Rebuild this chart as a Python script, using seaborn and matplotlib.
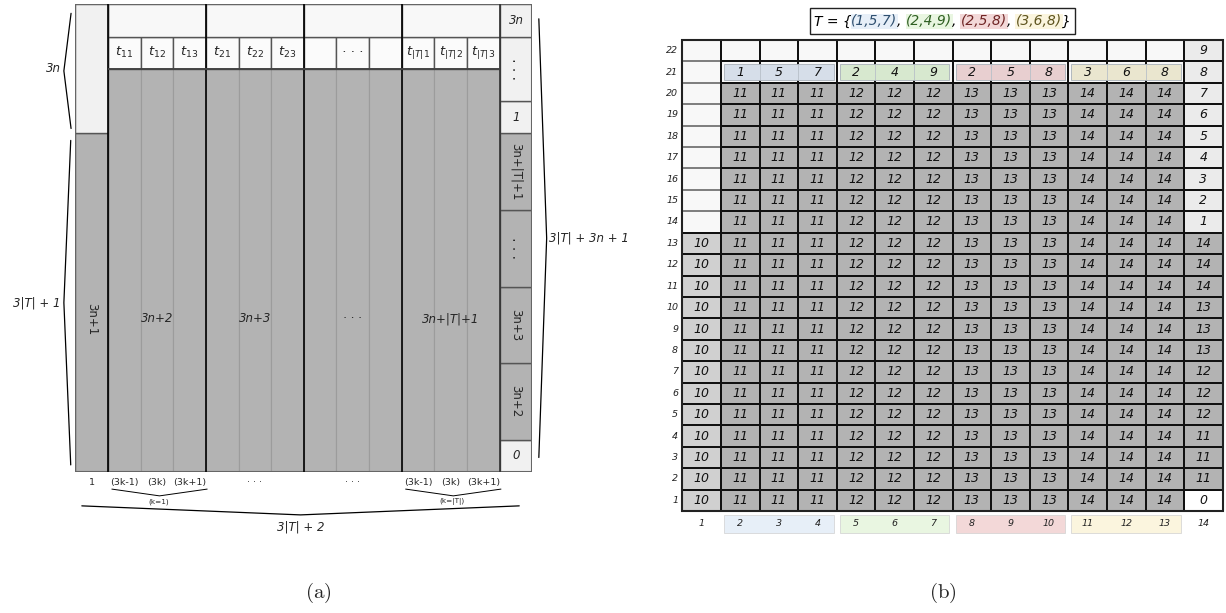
import numpy as np
import matplotlib
matplotlib.use("Agg")
import matplotlib.pyplot as plt
import seaborn as sns
from matplotlib.colors import ListedColormap
from matplotlib.patches import Rectangle

sns.set_theme(style="white")
plt.rcParams['font.family'] = ['DejaVu Sans']
plt.rcParams['mathtext.fontset'] = 'dejavusans'

# ---------------- data : panel (a) ----------------
a_header_labels = [r"$t_{11}$", r"$t_{12}$", r"$t_{13}$", r"$t_{21}$", r"$t_{22}$", r"$t_{23}$",
                   "", "· · ·", "", r"$t_{|T|1}$", r"$t_{|T|2}$", r"$t_{|T|3}$"]
a_group_labels = ["3n+2", "3n+3", "· · ·", "3n+|T|+1"]
a_first_col_label = "3n+1"
# right column, bottom -> top
a_right_labels = ["0", "3n+2", "3n+3", "· · ·", "3n+|T|+1", "1", "· · ·", "3n"]
a_right_heights = [1, 2.375, 2.375, 2.375, 2.375, 1, 2, 1]
a_right_light = [True, False, False, False, False, True, True, True]
a_right_rotated = [False, True, True, True, True, False, True, False]
a_bottom_labels = ["1", "(3k-1)", "(3k)", "(3k+1)", "", "· · ·", "", "", "· · ·", "",
                   "(3k-1)", "(3k)", "(3k+1)", ""]
a_k_labels = ["(k=1)", "(k=|T|)"]
a_brace_top = "3n"
a_brace_left = "3|T| + 1"
a_brace_right = "3|T| + 3n + 1"
a_brace_bottom = "3|T| + 2"

# ---------------- data : panel (b) ----------------
b_rows = list(range(22, 0, -1))          # top -> bottom
b_cols = list(range(1, 15))
T = [(1, 5, 7), (2, 4, 9), (2, 5, 8), (3, 6, 8)]
b_group_values = [11, 12, 13, 14]
b_first_col_value = 10
b_right_top = [9, 8, 7, 6, 5, 4, 3, 2, 1]                      # rows 22..14
b_right_mid = [14, 14, 14, 13, 13, 13, 12, 12, 12, 11, 11, 11]  # rows 13..2
b_right_bottom = 0                                              # row 1
b_group_fill = ["#d6dee9", "#d7e8cf", "#e8cfd0", "#eae6cf"]
b_group_light = ["#e7eff8", "#e9f6e1", "#f3d8d8", "#fbf5de"]
b_group_text = ["#2f4f6f", "#2f5f22", "#6f2525", "#5f5520"]

GRAY = "#b3b3b3"
LIGHT = "#f1f1f1"

fig = plt.figure(figsize=(12.26, 6.13), dpi=100)
W, H = 1226.0, 613.0

# ======================= panel (a) =======================
axA = fig.add_axes([75.3 / W, 1 - 472 / H, (532.3 - 75.3) / W, (472 - 4.3) / H])
ncol = 14
total_h = sum(a_right_heights)
header_h = 2
body_h = total_h - header_h
col0_light = sum(h for h, l in zip(a_right_heights[-3:], a_right_light[-3:]))
axA.set_xlim(0, ncol)
axA.set_ylim(0, total_h)
axA.axis("off")

mid_x = np.arange(1, ncol - 1) + 0.5
group_x = np.arange(4) * 3 + 2.5
axA.bar(mid_x, body_h, bottom=0, width=1, color=GRAY, edgecolor="#9c9c9c", linewidth=0.8)
axA.bar(mid_x, 1, bottom=body_h, width=1, color="#fbfbfb", edgecolor="#555555", linewidth=1.0)
axA.bar(group_x, 1, bottom=body_h + 1, width=3, color="#f8f8f8", edgecolor="#555555", linewidth=1.0)
axA.bar([0.5, 0.5], [total_h - col0_light, col0_light], bottom=[0, total_h - col0_light],
        width=1, color=[GRAY, LIGHT], edgecolor="#555555", linewidth=1.0)
bottoms = np.concatenate([[0], np.cumsum(a_right_heights)[:-1]])
axA.bar([ncol - 0.5] * len(a_right_heights), a_right_heights, bottom=bottoms, width=1,
        color=[LIGHT if l else GRAY for l in a_right_light], edgecolor="#555555", linewidth=1.0)
axA.vlines([1, 4, 7, 10], 0, total_h, colors="black", linewidth=1.2)
axA.vlines([13], 0, total_h, colors="#333333", linewidth=1.2)
axA.hlines([body_h], 1, 13, colors="#444444", linewidth=1.4)
axA.add_patch(Rectangle((0, 0), ncol, total_h, fill=False, edgecolor="#666666", linewidth=1.5))

for x, lab in zip(mid_x, a_header_labels):
    axA.text(x, body_h + 0.5, lab, ha="center", va="center", fontsize=9.5, style="italic")
label_y = 4.75
for x, lab in zip(group_x, a_group_labels):
    axA.text(x, label_y, lab, ha="center", va="center", fontsize=8.5, style="italic")
axA.text(0.5, label_y, a_first_col_label, ha="center", va="center", fontsize=8.5, rotation=270)
for b, h, lab, rot in zip(bottoms, a_right_heights, a_right_labels, a_right_rotated):
    if lab.startswith("·"):
        axA.text(ncol - 0.5, b + h / 2, lab, ha="center", va="center", fontsize=10, rotation=90)
    elif rot:
        axA.text(ncol - 0.5, b + h / 2, lab, ha="center", va="center", fontsize=8.5, rotation=270)
    else:
        axA.text(ncol - 0.5, b + h / 2, lab, ha="center", va="center", fontsize=8.5, style="italic")
for i, lab in enumerate(a_bottom_labels):
    if lab:
        axA.text(i + 0.5, -0.34, lab, ha="center", va="center", fontsize=6.8, clip_on=False)

def vbrace(ax, x_body, x_tip, y0, y1):
    ax.plot([x_body, x_tip, x_body], [y0, (y0 + y1) / 2, y1], color="black", lw=0.9,
            clip_on=False, solid_joinstyle="miter")

def hbrace(ax, x0, x1, y_body, y_tip, lw=0.9):
    ax.plot([x0, (x0 + x1) / 2, x1], [y_body, y_tip, y_body], color="black", lw=lw,
            clip_on=False, solid_joinstyle="miter")

vbrace(axA, -0.13, -0.35, total_h - col0_light + 0.15, total_h - 0.28)
axA.text(-0.45, total_h - col0_light / 2, a_brace_top, ha="right", va="center", fontsize=8.5, style="italic")
vbrace(axA, -0.14, -0.35, 0.22, total_h - col0_light - 0.22)
axA.text(-0.45, (total_h - col0_light) / 2, a_brace_left, ha="right", va="center", fontsize=8.5, style="italic")
vbrace(axA, 14.2, 14.44, 0.45, total_h - 0.45)
axA.text(14.52, total_h / 2, a_brace_right, ha="left", va="center", fontsize=8.5, style="italic")
for gx, lab in zip([1, 10], a_k_labels):
    hbrace(axA, gx + 0.12, gx + 3.04, -0.53, -0.74, lw=0.7)
    axA.text(gx + 1.55, -0.93, lab, ha="center", va="center", fontsize=5.2)
hbrace(axA, 0.2, 13.6, -1.05, -1.33)
axA.text(6.9, -1.72, a_brace_bottom, ha="center", va="center", fontsize=8.5, style="italic")

# ======================= panel (b) =======================
axB = fig.add_axes([682.3 / W, 1 - 511 / H, 540.4 / W, 471 / H])
nr, nc = len(b_rows), len(b_cols)
codes = np.zeros((nr, nc), dtype=int)
annot = np.full((nr, nc), "", dtype=object)
for i, r in enumerate(b_rows):
    if r <= 13:
        codes[i, 0] = 1
        annot[i, 0] = str(b_first_col_value)
    for j in range(1, nc - 1):
        g = (j - 1) // 3
        if r == 22:
            codes[i, j] = 0
        elif r == 21:
            codes[i, j] = 0
            annot[i, j] = str(T[g][(j - 1) % 3])
        else:
            codes[i, j] = 2
            annot[i, j] = str(b_group_values[g])
    if r >= 14:
        codes[i, nc - 1] = 3
        annot[i, nc - 1] = str(b_right_top[22 - r])
    elif r >= 2:
        codes[i, nc - 1] = 2
        annot[i, nc - 1] = str(b_right_mid[13 - r])
    else:
        codes[i, nc - 1] = 4
        annot[i, nc - 1] = str(b_right_bottom)

b_palette = ["#f8f8f8", "#d0d0d0", GRAY, "#ebebeb", "#ffffff"]
sns.heatmap(codes, ax=axB, cmap=ListedColormap(b_palette), vmin=-0.5, vmax=4.5, cbar=False,
            annot=annot, fmt="", annot_kws=dict(fontsize=9, fontstyle="italic", color="#111111"),
            linewidths=1.3, linecolor="#111111", xticklabels=b_cols, yticklabels=b_rows)
axB.tick_params(axis="both", length=0)
axB.tick_params(axis="x", pad=5.5)
axB.tick_params(axis="y", pad=3)
for t in axB.get_xticklabels() + axB.get_yticklabels():
    t.set_fontsize(6.8)
    t.set_fontstyle("italic")
    t.set_color("#222222")
    t.set_rotation(0)
# lighter borders in the empty top part of the first column
n_light_rows = sum(1 for r in b_rows if r > 13)
axB.hlines(np.arange(1, n_light_rows), 0.03, 0.97, colors="#8c8c8c", linewidth=1.3, zorder=1.5)
axB.add_patch(Rectangle((0, 0), nc, nr, fill=False, edgecolor="#222222", linewidth=1.5, clip_on=False))

row21 = b_rows.index(21)
for g in range(4):
    x0 = 1 + 3 * g
    axB.add_patch(Rectangle((x0 + 0.08, row21 + 0.12), 2.84, 0.76, facecolor=b_group_fill[g],
                            edgecolor="#a8b0b8", linewidth=0.6, zorder=2))
    axB.vlines([x0 + 1, x0 + 2], row21 + 0.12, row21 + 0.88, colors="#b8c0c8", linewidth=0.6, zorder=2)
    axB.add_patch(Rectangle((x0 + 0.08, nr + 0.19), 2.84, 0.84, facecolor=b_group_light[g],
                            edgecolor="#d0d0d0", linewidth=0.5, clip_on=False, zorder=0.5))

# title with coloured tuples, chained piece by piece
pieces = [("T = {", "black", None)]
for g, t in enumerate(T):
    pieces.append(("(" + ",".join(str(v) for v in t) + ")", b_group_text[g], b_group_light[g]))
    pieces.append((", " if g < len(T) - 1 else "}", "black", None))
title_texts = []
prev = None
for s, col, bg in pieces:
    kw = dict(fontsize=10, style="italic", color=col, ha="left", va="baseline")
    if bg is not None:
        kw["bbox"] = dict(boxstyle="square,pad=0.05", facecolor=bg, edgecolor="none")
    if prev is None:
        prev = axB.text(0.243, 1.031, s, transform=axB.transAxes, **kw)
    else:
        prev = axB.annotate(s, xy=(1, 0), xycoords=prev, va="bottom", ha="left",
                            **{k: v for k, v in kw.items() if k not in ("ha", "va")})
    title_texts.append(prev)

fig.canvas.draw()
rend = fig.canvas.get_renderer()
exts = [t.get_window_extent(rend) for t in title_texts]
x0 = min(e.x0 for e in exts) - 4
x1 = max(e.x1 for e in exts) + 4
y0 = min(e.y0 for e in exts) - 6
y1 = max(e.y1 for e in exts) + 6
(fx0, fy0), (fx1, fy1) = fig.transFigure.inverted().transform([(x0, y0), (x1, y1)])
fig.add_artist(Rectangle((fx0, fy0), fx1 - fx0, fy1 - fy0, transform=fig.transFigure,
                         fill=False, edgecolor="#222222", linewidth=1.0))

fig.text(318 / W, 1 - 593 / H, r"$(\mathrm{a})$", math_fontfamily="cm", fontsize=15, ha="center", va="center")
fig.text(943 / W, 1 - 593 / H, r"$(\mathrm{b})$", math_fontfamily="cm", fontsize=15, ha="center", va="center")

fig.savefig("out.png", dpi=100)
